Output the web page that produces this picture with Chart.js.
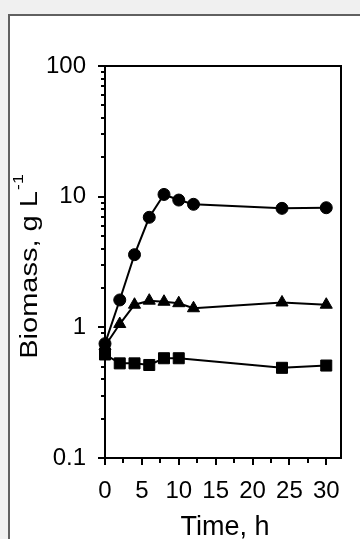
<!DOCTYPE html>
<html><head><meta charset="utf-8">
<script src="https://cdn.jsdelivr.net/npm/chart.js@4/dist/chart.umd.min.js"></script>
<style>
html,body{margin:0;padding:0;width:360px;height:539px;overflow:hidden;background:#f0f0f0;}
#panel{position:absolute;left:8px;top:14px;width:400px;height:600px;background:#fff;border-left:2px solid #606060;border-top:2px solid #606060;}
#c{position:absolute;left:0;top:0;}
</style></head><body><div id="panel"></div><canvas id="c" width="360" height="539"></canvas>
<script>
// ---- data ----
const timeHours      = [0, 2, 4, 6, 8, 10, 12, 24, 30];
const circleSeries   = [0.75, 1.62, 3.6, 6.95, 10.4, 9.42, 8.74, 8.14, 8.23];
const triangleSeries = [0.72, 1.06, 1.49, 1.60, 1.57, 1.53, 1.40, 1.55, 1.49];
const squareTimes    = [0, 2, 4, 6, 8, 10, 24, 30];
const squareSeries   = [0.62, 0.53, 0.53, 0.515, 0.58, 0.58, 0.49, 0.51];
const xTickValues    = [0, 2.5, 5, 7.5, 10, 12.5, 15, 17.5, 20, 22.5, 25, 27.5, 30];
const yDecades       = [0.1, 1, 10, 100];
const xTitle = 'Time, h';
const yTitle = 'Biomass, g L';
const yTitleSup = '-1';

const FONT = '"Liberation Sans", Arial, sans-serif';
const pts = (xs, ys) => xs.map((x, i) => ({x, y: ys[i]}));
const isDecade = v => yDecades.some(d => Math.abs(d - v) / d < 1e-6);

const yTickValues = [];
for (let d = 0; d < yDecades.length - 1; d++)
  for (let m = 1; m <= 9; m++) yTickValues.push(+(yDecades[d] * m).toPrecision(6));
yTickValues.push(yDecades[yDecades.length - 1]);

const frame = {
  id: 'frame',
  beforeDatasetsDraw(chart) {
    const {ctx, chartArea: a, scales: {x, y}} = chart;
    ctx.save();
    ctx.strokeStyle = '#000';
    ctx.lineWidth = 2;
    ctx.strokeRect(a.left, a.top, a.right - a.left, a.bottom - a.top);
    ctx.beginPath();
    y.ticks.forEach(t => {
      const py = Math.round(y.getPixelForValue(t.value));
      ctx.moveTo(a.left, py);
      ctx.lineTo(a.left - (isDecade(t.value) ? 7 : 4), py);
    });
    x.ticks.forEach(t => {
      const px = Math.round(x.getPixelForValue(t.value));
      ctx.moveTo(px, a.bottom);
      ctx.lineTo(px, a.bottom + (t.value % 5 === 0 ? 7 : 5));
    });
    ctx.stroke();
    ctx.restore();
  },
  afterDraw(chart) {
    const {ctx} = chart;
    ctx.save();
    ctx.fillStyle = '#000';
    ctx.textBaseline = 'alphabetic';
    ctx.font = '27px ' + FONT;
    ctx.textAlign = 'center';
    ctx.fillText(xTitle, 225, 535);
    // rotated y title with superscript
    ctx.translate(36.5, 266.5);
    ctx.rotate(-Math.PI / 2);
    ctx.scale(1.26, 1);
    ctx.textAlign = 'left';
    ctx.font = '23px ' + FONT;
    const wMain = ctx.measureText(yTitle).width;
    ctx.font = '14px ' + FONT;
    const wSup = ctx.measureText(yTitleSup).width;
    const start = -(wMain + wSup + 1) / 2;
    ctx.font = '23px ' + FONT;
    ctx.fillText(yTitle, start, 0);
    ctx.font = '14px ' + FONT;
    ctx.fillText(yTitleSup, start + wMain + 1, -13.4);
    ctx.restore();
  }
};

const common = {borderColor: '#000', backgroundColor: '#000', borderWidth: 2,
  pointBorderWidth: 1, pointBackgroundColor: '#000', pointBorderColor: '#000', clip: false, tension: 0};

new Chart(document.getElementById('c'), {
  type: 'line',
  data: {
    datasets: [
      Object.assign({label: 'squares', data: pts(squareTimes, squareSeries), pointStyle: 'rect', pointRadius: 7.8}, common),
      Object.assign({label: 'triangles', data: pts(timeHours, triangleSeries), pointStyle: 'triangle', pointRadius: 7}, common),
      Object.assign({label: 'circles', data: pts(timeHours, circleSeries), pointStyle: 'circle', pointRadius: 6}, common)
    ]
  },
  options: {
    responsive: false,
    devicePixelRatio: 1,
    animation: false,
    events: [],
    layout: {padding: {top: 66, right: 19, left: 0, bottom: 0}},
    plugins: {legend: {display: false}, tooltip: {enabled: false}},
    scales: {
      x: {
        type: 'linear', min: 0, max: 32,
        afterBuildTicks: s => { s.ticks = xTickValues.map(v => ({value: v})); },
        afterFit: s => { s.height = 81; },
        grid: {display: false, drawTicks: false},
        border: {display: false},
        ticks: {
          autoSkip: false, maxRotation: 0, minRotation: 0, padding: 19,
          color: '#000', font: {family: FONT, size: 24},
          callback: v => (v % 5 === 0 ? String(v) : '')
        }
      },
      y: {
        type: 'logarithmic', min: 0.1, max: 100,
        afterBuildTicks: s => { s.ticks = yTickValues.map(v => ({value: v})); },
        afterFit: s => { s.width = 105; },
        grid: {display: false, drawTicks: false},
        border: {display: false},
        ticks: {
          autoSkip: false, padding: 19,
          color: '#000', font: {family: FONT, size: 24},
          callback: v => (isDecade(v) ? String(v) : '')
        }
      }
    }
  },
  plugins: [frame]
});
</script></body></html>
